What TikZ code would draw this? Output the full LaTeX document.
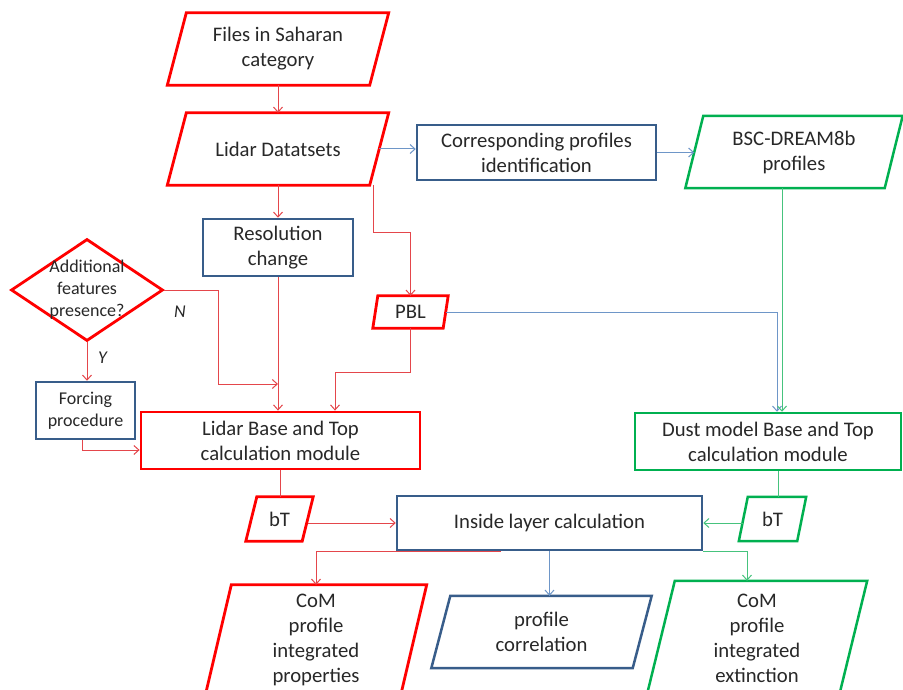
\documentclass[tikz,border=0pt]{standalone}
\usepackage{fontspec}
\setmainfont{Carlito}
\usetikzlibrary{shapes, calc, arrows.meta, positioning}

\definecolor{boxred}{RGB}{255,0,0}
\definecolor{boxblue}{RGB}{56,93,138}
\definecolor{boxgreen}{RGB}{0,176,80}
\definecolor{linered}{RGB}{228,70,75}
\definecolor{lineblue}{RGB}{110,150,200}
\definecolor{linegreen}{RGB}{70,195,125}
\definecolor{txtgray}{RGB}{40,40,40}

\begin{document}
\begin{tikzpicture}[x=1pt, y=-1pt, >={Straight Barb[length=5pt, width=9pt]},
    font=\fontsize{20.7}{25}\selectfont, text=txtgray,
    proc/.style={rectangle, draw, inner sep=0pt, align=center},
    data/.style={rectangle, inner sep=0pt, align=center},
    redb/.style={draw=boxred, line width=2.8pt},
    blueb/.style={draw=boxblue, line width=2.5pt},
    grnb/.style={draw=boxgreen, line width=2.5pt},
    redl/.style={draw=linered, line width=1pt},
    bluel/.style={draw=lineblue, line width=1pt},
    grnl/.style={draw=linegreen, line width=1pt},
    small/.style={font=\fontsize{18}{22}\selectfont}]
    \clip (0,0) rectangle (903,690);
    \fill[white] (0,0) rectangle (903,690);

    \node[data, minimum width=202pt, minimum height=72pt] (files) at (278,49) {Files in Saharan\\category};
    \node[data, minimum width=202pt, minimum height=72pt] (lidar) at (278,149) {Lidar Datatsets};
    \node[proc, blueb, minimum width=239pt, minimum height=55pt] (corr) at (536.5,152.5) {Corresponding profiles\\identification};
    \node[data, minimum width=199pt, minimum height=72pt] (bsc) at (794,152) {BSC-DREAM8b\\profiles};
    \node[proc, blueb, minimum width=150pt, minimum height=57pt] (res) at (278,247.5) {Resolution\\change};
    \node[diamond, redb, minimum width=152pt, minimum height=102pt, inner sep=0pt] (feat) at (87,290) {};
    \node[small, align=center] (featlbl) at (feat) {Additional\\features\\presence?};
    \node[small] (nlbl) at (180,312) {\textit{N}};
    \node[small] (ylbl) at (103,358) {\textit{Y}};
    \node[data, minimum width=70pt, minimum height=32pt] (pbl) at (410.5,312) {PBL};
    \node[proc, blueb, small, minimum width=99pt, minimum height=57pt] (forc) at (85.5,410.5) {Forcing\\procedure};
    \node[proc, redb, minimum width=279pt, minimum height=57pt] (lbase) at (280.5,440.5) {Lidar Base and Top\\calculation module};
    \node[proc, grnb, minimum width=266pt, minimum height=57pt] (dust) at (768,441.5) {Dust model Base and Top\\calculation module};
    \node[data, minimum width=56pt, minimum height=44pt] (btl) at (279.5,519) {bT};
    \node[data, minimum width=58pt, minimum height=44pt] (btr) at (772.5,519) {bT};
    \node[proc, blueb, minimum width=305pt, minimum height=54pt] (inside) at (549.5,523) {Inside layer calculation};
    \node[data, minimum width=195pt, minimum height=110pt] (coml) at (316,640) {CoM\\profile\\integrated\\properties};
    \node[data, minimum width=201pt, minimum height=72pt] (corrl) at (541.5,632) {profile\\correlation};
    \node[data, minimum width=192pt, minimum height=114pt] (comr) at (757,638) {CoM\\profile\\integrated\\extinction};

    \foreach \n/\s/\c/\w in {files/9.5/boxred/2.8, lidar/9.5/boxred/2.8, bsc/9/boxgreen/2.5,
        pbl/2.5/boxred/2.8, btl/5.5/boxred/2.8, btr/4.5/boxgreen/2.5,
        coml/13/boxred/2.8, corrl/9.5/boxblue/2.5, comr/14/boxgreen/2.5}
      \draw[draw=\c, line width=\w pt] ([xshift=\s pt]\n.north west) -- ([xshift=\s pt]\n.north east)
        -- ([xshift=-\s pt]\n.south east) -- ([xshift=-\s pt]\n.south west) -- cycle;

    \draw[redl,->] (files.south) -- (lidar.north);
    \draw[bluel,->] (lidar.east) -- (lidar.east -| corr.west);
    \draw[bluel,->] (corr.east) -- (corr.east -| bsc.west);
    \draw[redl,->] (lidar.south) -- (res.north);
    \draw[redl,->] ([xshift=95pt]lidar.south) -- ++(0,47) -| (pbl.north);
    \draw[redl,->] (feat.east) -- ++(54,0) |- (res.south |- 0,384);
    \draw[redl,->] (feat.south) -- (feat.south |- forc.north);
    \draw[redl,->] ([xshift=-3.5pt]forc.south) |- ($(lbase.west)+(0,9.5)$);
    \draw[redl,->] (res.south) -- (res.south |- lbase.north);
    \draw[redl,->] (pbl.south) -- ++(0,44) -| ([xshift=54.5pt]lbase.north);
    \draw[bluel,->] (pbl.east) -| ([xshift=9pt]dust.north);
    \draw[grnl,->] ([xshift=-12pt]bsc.south) -- ([xshift=-12pt]bsc.south |- dust.north);
    \draw[redl] (lbase.south) -- (lbase.south |- btl.north);
    \draw[grnl] ([xshift=10pt]dust.south) -- ([xshift=10pt]dust.south |- btr.north);
    \draw[redl,->] (btl.east |- inside.west) -- (inside.west);
    \draw[grnl,->] (btr.west |- inside.east) -- (inside.east);
    \draw[redl,->] ([xshift=105pt]inside.south west) -| (coml.north);
    \draw[bluel,->] (inside.south) -- (inside.south |- corrl.north);
    \draw[grnl,->] (inside.south east) -| ([xshift=-10pt]comr.north);
\end{tikzpicture}
\end{document}
